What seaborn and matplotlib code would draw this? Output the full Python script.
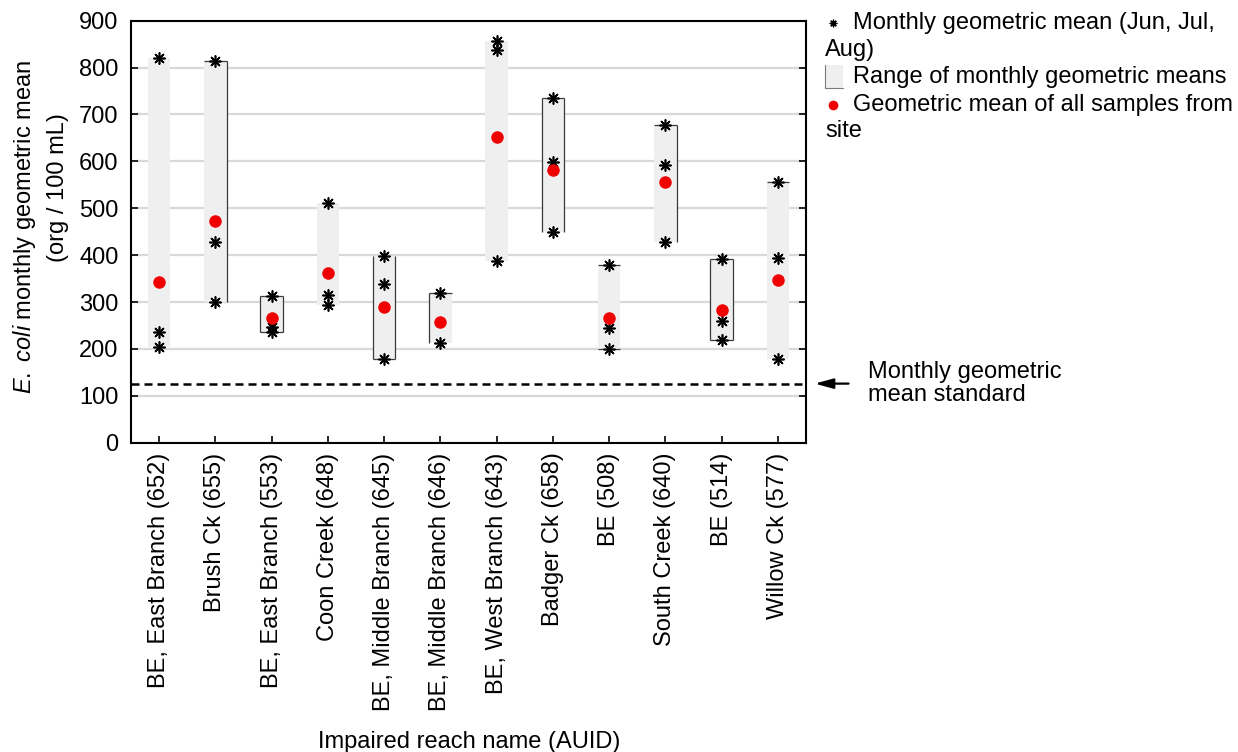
import numpy as np
import pandas as pd
import matplotlib
matplotlib.use("Agg")
import matplotlib.pyplot as plt
from matplotlib.patches import Rectangle
import seaborn as sns

# Impaired reaches (AUID) and E. coli summaries (org / 100 mL)
reaches = [
    "BE, East Branch (652)", "Brush Ck (655)", "BE, East Branch (553)",
    "Coon Creek (648)", "BE, Middle Branch (645)", "BE, Middle Branch (646)",
    "BE, West Branch (643)", "Badger Ck (658)", "BE (508)",
    "South Creek (640)", "BE (514)", "Willow Ck (577)",
]

# Monthly geometric means (Jun, Jul, Aug) per reach
monthly_means = [
    [820, 237, 205],
    [813, 428, 301],
    [312, 247, 236],
    [511, 315, 294],
    [399, 338, 178],
    [320, 213],
    [856, 838, 388],
    [735, 598, 449],
    [378, 245, 200],
    [677, 592, 427],
    [392, 260, 218],
    [556, 393, 178],
]

# Geometric mean of all samples from each site
site_geomean = [343, 473, 267, 362, 289, 258, 653, 582, 265, 555, 284, 347]

# Monthly geometric mean standard
standard = 126

y_ticks = [0, 100, 200, 300, 400, 500, 600, 700, 800, 900]

# Which sides of each range box carry an outline
box_sides = [
    "", "tr", "ltrb", "", "lbr", "lt",
    "", "ltr", "tb", "tr", "ltrb", "t",
]

sns.set_style("white")
plt.rcParams["font.family"] = ["Liberation Sans", "DejaVu Sans"]
plt.rcParams["mathtext.fontset"] = "custom"
plt.rcParams["mathtext.rm"] = "Liberation Sans"
plt.rcParams["mathtext.it"] = "Liberation Sans:italic"
for key in ("text.color", "axes.labelcolor", "xtick.color", "ytick.color"):
    plt.rcParams[key] = "black"

FS = 17
W, H = 1238, 752
fig = plt.figure(figsize=(W / 100, H / 100), dpi=100)
ax = fig.add_axes([131 / W, 1 - 442.7 / H, 675 / W, 422 / H])

lows = [min(v) for v in monthly_means]
highs = [max(v) for v in monthly_means]
range_df = pd.DataFrame({
    "reach": reaches,
    "low": lows,
    "span": np.array(highs) - np.array(lows),
})
month_df = pd.DataFrame({
    "reach": [r for r, vals in zip(reaches, monthly_means) for _ in vals],
    "value": [v for vals in monthly_means for v in vals],
})
site_df = pd.DataFrame({"reach": reaches, "value": site_geomean})

# Range of monthly geometric means as floating bars
sns.barplot(data=range_df, x="reach", y="span", bottom=range_df["low"],
            color="#efefef", saturation=1, width=0.4, edgecolor="none",
            linewidth=0, ax=ax, zorder=2)

# Partial outlines on the range boxes
for patch, sides in zip(ax.patches, box_sides):
    x0, y0 = patch.get_x(), patch.get_y()
    x1, y1 = x0 + patch.get_width(), y0 + patch.get_height()
    segs = {"l": ([x0, x0], [y0, y1]), "r": ([x1, x1], [y0, y1]),
            "t": ([x0, x1], [y1, y1]), "b": ([x0, x1], [y0, y0])}
    for s in sides:
        ax.plot(*segs[s], color="#3a3a3a", lw=0.9, zorder=3,
                solid_capstyle="butt")

# Monthly geometric means
sns.stripplot(data=month_df, x="reach", y="value", jitter=False,
              marker=(8, 2, 0), size=8, color="black", linewidth=1.2,
              ax=ax, zorder=4)

# Site geometric means
sns.stripplot(data=site_df, x="reach", y="value", jitter=False,
              marker="o", size=9, color="#f00000", linewidth=0,
              ax=ax, zorder=5)

# Standard
ax.axhline(standard, color="black", lw=1.8, ls=(0, (3.2, 2.0)), zorder=3)

ax.set_xlim(-0.5, len(reaches) - 0.5)
ax.set_ylim(0, 900)
ax.set_yticks(y_ticks)
ax.set_yticklabels([str(t) for t in y_ticks], fontsize=FS)
ax.set_xticks(range(len(reaches)))
ax.set_xticklabels(reaches, rotation=90, fontsize=FS)
ax.set_xlabel("")
ax.set_ylabel("")

ax.set_axisbelow(True)
ax.yaxis.grid(True, color="#d9d9d9", lw=1.6)
ax.xaxis.grid(False)
for sp in ax.spines.values():
    sp.set_visible(True)
    sp.set_color("black")
    sp.set_linewidth(1.5)
ax.tick_params(axis="y", direction="in", length=5, width=1.2, left=True,
               right=True, labelright=False, pad=9, colors="black")
ax.tick_params(axis="x", direction="in", length=5, width=1.2, bottom=True,
               top=False, pad=7, colors="black")

# Axis titles
fig.text(25 / W, 1 - 227 / H,
         r"$\mathit{E.}$ $\mathit{coli}$ monthly geometric mean",
         rotation=90, ha="center", va="center", fontsize=FS)
fig.text(58 / W, 1 - 188 / H, "(org / 100 mL)",
         rotation=90, ha="center", va="center", fontsize=FS)
fig.text(469 / W, 1 - 742 / H, "Impaired reach name (AUID)",
         ha="center", va="center", fontsize=FS)

# Arrow pointing at the standard line
ax.annotate("", xy=(1.013, standard), xytext=(1.063, standard),
            xycoords=("axes fraction", "data"),
            textcoords=("axes fraction", "data"),
            arrowprops=dict(arrowstyle="-|>,head_width=0.3,head_length=1.1",
                            color="black", lw=1.6, shrinkA=0, shrinkB=0),
            annotation_clip=False)
ax.text(1.092, standard, "Monthly geometric\nmean standard",
        transform=ax.get_yaxis_transform(), ha="left", va="center",
        fontsize=FS, linespacing=1.05)

# Key, laid out in figure pixels
lax = fig.add_axes([0, 0, 1, 1], zorder=-1)
lax.set_xlim(0, W)
lax.set_ylim(H, 0)
lax.axis("off")
lax.plot([833], [23], marker=(8, 2, 0), ms=5.5, mew=0.9, color="black",
         ls="none")
lax.text(853, 23, "Monthly geometric mean (Jun, Jul,", fontsize=FS,
         ha="left", va="center")
lax.text(825, 50, "Aug)", fontsize=FS, ha="left", va="center")
lax.add_patch(Rectangle((825, 65), 18, 23, facecolor="#efefef",
                        edgecolor="none"))
lax.plot([825, 825, 843], [65, 88, 88], color="#7a7a7a", lw=0.8)
lax.text(853, 77, "Range of monthly geometric means", fontsize=FS,
         ha="left", va="center")
lax.plot([833], [105], marker="o", ms=6, color="#f00000", ls="none")
lax.text(853, 105, "Geometric mean of all samples from", fontsize=FS,
         ha="left", va="center")
lax.text(825, 131, "site", fontsize=FS, ha="left", va="center")

fig.savefig("out.png", dpi=100)
